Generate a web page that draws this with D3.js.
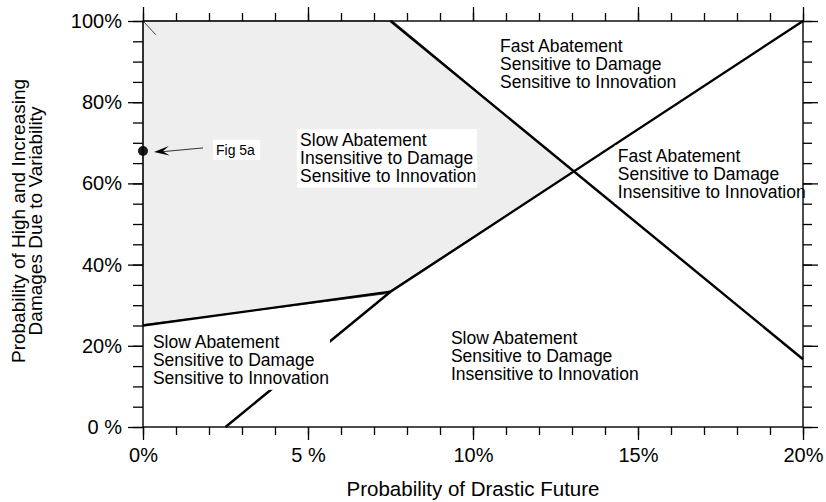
<!DOCTYPE html>
<html>
<head>
<meta charset="utf-8">
<script src="https://cdn.jsdelivr.net/npm/d3@7"></script>
<style>
  html, body { margin: 0; padding: 0; background: #fff; }
  svg { display: block; font-family: "Liberation Sans", Arial, Helvetica, sans-serif; }
</style>
</head>
<body>
<svg id="chart" width="826" height="502"></svg>
<script>
// Axis tick values and labels (x: probability of drastic future, %; y: probability of high damages, %)
const xMajorTicks = [0, 5, 10, 15, 20];
const xMajorLabels = ["0%", "5 %", "10%", "15%", "20%"];
const xMinorTicks = d3.range(0, 21, 1);
const yMajorTicks = [0, 20, 40, 60, 80, 100];
const yMajorLabels = ["0 %", "20%", "40%", "60%", "80%", "100%"];
const yMinorTicks = d3.range(0, 101, 5);

// Decision boundaries, as [x %, y %] vertices
const boundaryDamageLow = [[0, 25], [7.5, 33.3]];
const boundaryInnovation = [[2.5, 0], [7.5, 33.3], [20, 100]];
const boundaryDamageHigh = [[7.5, 100], [20, 16.7]];

// Shaded region (slow abatement, insensitive to damage)
const shadedRegion = [[0, 25.2], [0, 100], [7.57, 100], [13.05, 62.9], [7.35, 32.8], [0, 25.2]];
const cornerStroke = [[0, 100], [0.39, 96.6]];

// Case marked on the chart
const markedCase = { name: "Fig 5a", x: 0, y: 68 };

// Region annotations: anchor at [x %, y %] of the first line's centre
const regionLabels = [
  { x: 10.82, y: 93.8, lines: ["Fast Abatement", "Sensitive to Damage", "Sensitive to Innovation"] },
  { x: 4.76,  y: 70.7, lines: ["Slow Abatement", "Insensitive to Damage", "Sensitive to Innovation"] },
  { x: 14.39, y: 66.7, lines: ["Fast Abatement", "Sensitive to Damage", "Insensitive to Innovation"] },
  { x: 0.30,  y: 20.9, lines: ["Slow Abatement", "Sensitive to Damage", "Sensitive to Innovation"] },
  { x: 9.33,  y: 21.9, lines: ["Slow Abatement", "Sensitive to Damage", "Insensitive to Innovation"] }
];

const svg = d3.select("#chart");
const x = d3.scaleLinear().domain([0, 20]).range([143, 803]);
const y = d3.scaleLinear().domain([0, 100]).range([427, 21]);
const line = d3.line().x(d => x(d[0])).y(d => y(d[1]));

// shaded region
svg.append("path")
  .attr("d", line(shadedRegion))
  .attr("fill", "#eeeeee")
  .attr("stroke", "#333")
  .attr("stroke-width", 0.8);

svg.append("path")
  .attr("d", line(cornerStroke))
  .attr("fill", "none")
  .attr("stroke", "#333")
  .attr("stroke-width", 0.9);

// boundaries
[boundaryDamageLow, boundaryInnovation, boundaryDamageHigh].forEach(b => {
  svg.append("path")
    .attr("d", line(b))
    .attr("fill", "none")
    .attr("stroke", "#000")
    .attr("stroke-width", 2.4)
    .attr("stroke-linejoin", "round");
});

// region labels with white backing
const labelSize = 17.5, lineGap = 17.8;
regionLabels.forEach(l => {
  const g = svg.append("g");
  const t = g.append("text")
    .attr("font-size", labelSize)
    .attr("fill", "#000");
  l.lines.forEach((s, i) => {
    t.append("tspan")
      .attr("x", x(l.x))
      .attr("y", y(l.y) + i * lineGap)
      .attr("dy", "0.35em")
      .text(s);
  });
  const bb = t.node().getBBox();
  g.insert("rect", "text")
    .attr("x", bb.x - 3)
    .attr("y", bb.y - 1)
    .attr("width", bb.width + 4)
    .attr("height", bb.height + 3)
    .attr("fill", "#fff");
});

// marked case with arrow
const cx = x(markedCase.x), cy = y(markedCase.y);
const lg = svg.append("g");
const lt = lg.append("text")
  .attr("x", cx + 73)
  .attr("y", cy - 1)
  .attr("dy", "0.35em")
  .attr("font-size", 14)
  .text(markedCase.name);
const lb = lt.node().getBBox();
lg.insert("rect", "text")
  .attr("x", lb.x - 3).attr("y", lb.y - 2)
  .attr("width", lb.width + 8).attr("height", lb.height + 4)
  .attr("fill", "#fff");

const tip = [cx + 11, cy + 1], tail = [cx + 60, cy - 3];
svg.append("line")
  .attr("x1", tail[0]).attr("y1", tail[1])
  .attr("x2", tip[0] + 6).attr("y2", tip[1])
  .attr("stroke", "#000").attr("stroke-width", 0.8);
const ang = Math.atan2(tail[1] - tip[1], tail[0] - tip[0]);
const headLen = 16, headW = 0.3;
const p1 = [tip[0] + headLen * Math.cos(ang + headW), tip[1] + headLen * Math.sin(ang + headW)];
const p2 = [tip[0] + headLen * Math.cos(ang - headW), tip[1] + headLen * Math.sin(ang - headW)];
const pm = [tip[0] + headLen * 0.55 * Math.cos(ang), tip[1] + headLen * 0.55 * Math.sin(ang)];
svg.append("path")
  .attr("d", `M${p1[0]},${p1[1]}L${tip[0]},${tip[1]}L${p2[0]},${p2[1]}L${pm[0]},${pm[1]}Z`)
  .attr("fill", "#000");

svg.append("circle")
  .attr("cx", cx).attr("cy", cy).attr("r", 5)
  .attr("fill", "#1a1a1a");

// axes on all four sides, ticks outward
function drawAxis(axisFn, transform, minor, major, labels, minorLen, majorLen, pad) {
  svg.append("g").attr("transform", transform)
    .call(axisFn.tickValues(minor).tickSize(minorLen).tickSizeOuter(0).tickFormat(""))
    .call(g => g.select(".domain").remove());
  const g = svg.append("g").attr("transform", transform)
    .call(axisFn.tickValues(major).tickSize(majorLen).tickSizeOuter(0).tickPadding(pad)
      .tickFormat((d, i) => labels ? labels[i] : ""))
    .call(g => g.select(".domain").remove());
  g.selectAll("line").attr("stroke", "#000").attr("stroke-width", 1.3);
  g.selectAll("text").attr("font-size", 20).attr("fill", "#000")
    .attr("font-family", "Liberation Sans, Arial, sans-serif");
  return g;
}
drawAxis(d3.axisBottom(x), `translate(0,${y(0)})`, xMinorTicks, xMajorTicks, xMajorLabels, 8, 13, 8);
drawAxis(d3.axisTop(x), `translate(0,${y(100)})`, xMinorTicks, xMajorTicks, null, 8, 14, 3);
drawAxis(d3.axisLeft(y), `translate(${x(0)},0)`, yMinorTicks, yMajorTicks, yMajorLabels, 10, 15, 6);
drawAxis(d3.axisRight(y), `translate(${x(20)},0)`, yMinorTicks, yMajorTicks, null, 9, 15, 3);
svg.selectAll(".tick line").attr("stroke", "#000").attr("stroke-width", 1.3);

svg.append("rect")
  .attr("x", x(0)).attr("y", y(100))
  .attr("width", x(20) - x(0)).attr("height", y(0) - y(100))
  .attr("fill", "none").attr("stroke", "#000").attr("stroke-width", 1.4);

// axis titles
svg.append("text")
  .attr("x", (x(0) + x(20)) / 2)
  .attr("y", 496)
  .attr("text-anchor", "middle")
  .attr("font-size", 20.5)
  .text("Probability of Drastic Future");

const yt = svg.append("text")
  .attr("transform", `translate(0,${(y(0) + y(100)) / 2 - 3}) rotate(-90)`)
  .attr("text-anchor", "middle")
  .attr("font-size", 19);
yt.append("tspan").attr("x", 0).attr("y", 25).text("Probability of High and Increasing");
yt.append("tspan").attr("x", 0).attr("y", 42).text("Damages Due to Variability");
</script>
</body>
</html>
